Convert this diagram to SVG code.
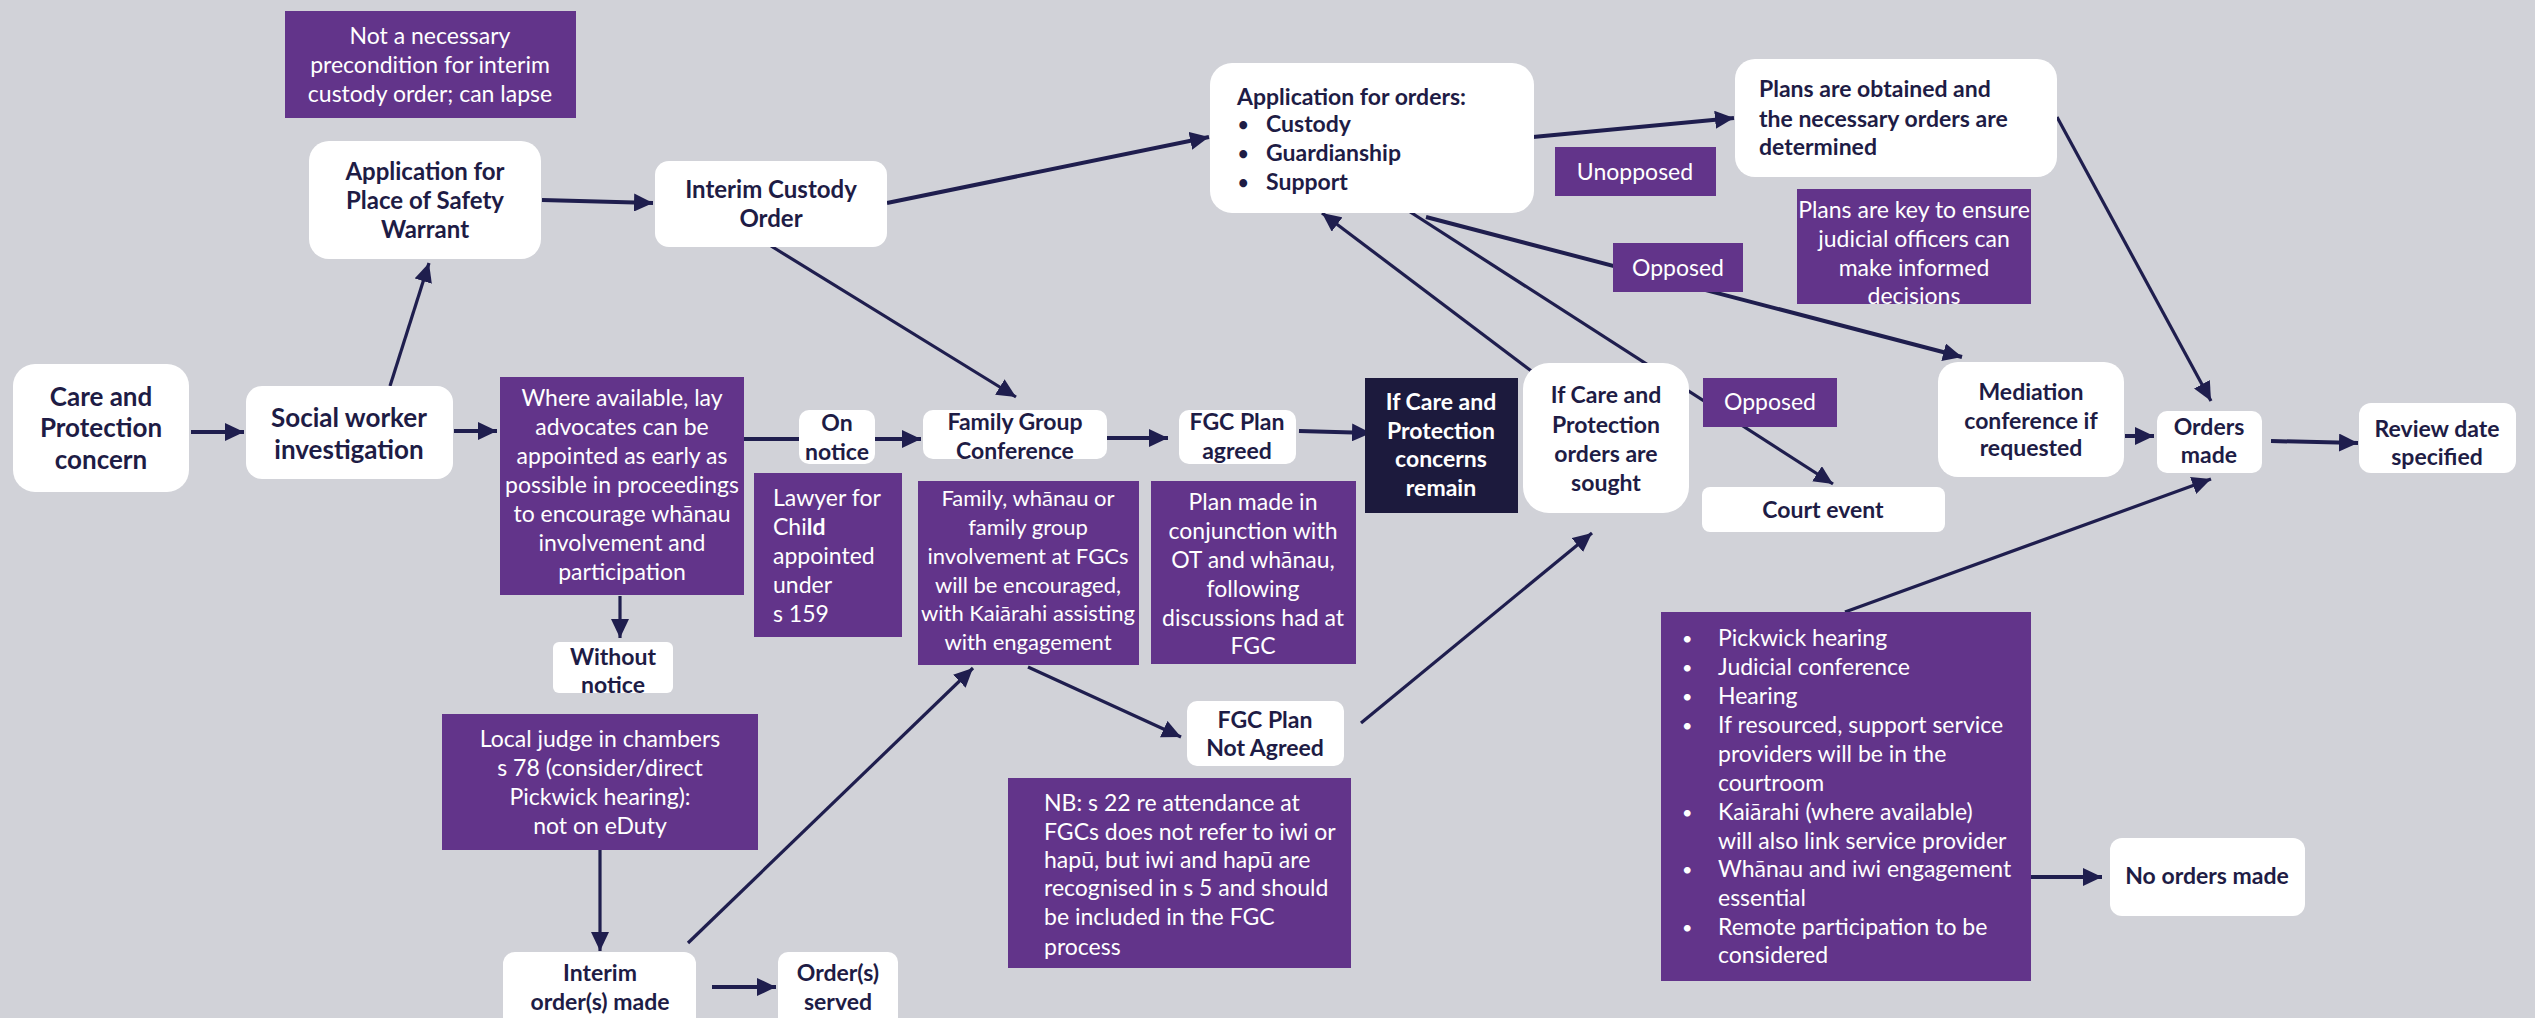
<svg xmlns="http://www.w3.org/2000/svg" width="2535" height="1018" viewBox="0 0 2535 1018">
<defs>
<style>
.bg{fill:#d1d2d8}
.n{fill:#ffffff}
.p{fill:#62348a}
.d{fill:#1c1a3d}
.t{font-family:Lato,"Open Sans","Liberation Sans",sans-serif;font-weight:700;fill:#1e1c45;font-size:23px;text-anchor:middle}
.tw{font-family:Lato,"Open Sans","Liberation Sans",sans-serif;font-weight:700;fill:#ffffff;font-size:23px;text-anchor:middle}
.pt{font-family:Lato,"Open Sans","Liberation Sans",sans-serif;font-weight:400;fill:#ffffff;font-size:23px;text-anchor:middle}
.l{text-anchor:start}
.b{font-size:18px}
.c{fill:none;stroke:#1f1e4e;stroke-width:4}
.c3{fill:none;stroke:#1f1e4e;stroke-width:3.2}
</style>
<marker id="ah" markerUnits="userSpaceOnUse" markerWidth="20" markerHeight="18" refX="19" refY="9" orient="auto">
<path d="M0,0 L19,9 L0,18 z" fill="#1f1e4e"/>
</marker>
<clipPath id="kclip"><rect x="1797" y="189" width="234" height="115"/></clipPath>
</defs>
<rect class="bg" x="0" y="0" width="2535" height="1018"/>

<g id="connectors">
<line class="c" x1="191" y1="432" x2="244" y2="432" marker-end="url(#ah)"/>
<line class="c" x1="454" y1="431" x2="497" y2="431" marker-end="url(#ah)"/>
<line class="c3" x1="390" y1="386" x2="429" y2="263" marker-end="url(#ah)"/>
<line class="c" x1="542" y1="200" x2="653" y2="203" marker-end="url(#ah)"/>
<line class="c" x1="887" y1="203" x2="1209" y2="137" marker-end="url(#ah)"/>
<line class="c3" x1="771" y1="246" x2="1016" y2="397" marker-end="url(#ah)"/>
<line class="c" x1="739" y1="439" x2="799" y2="439"/>
<line class="c" x1="875" y1="439" x2="921" y2="439" marker-end="url(#ah)"/>
<line class="c" x1="1107" y1="438" x2="1168" y2="438" marker-end="url(#ah)"/>
<line class="c" x1="1299" y1="431" x2="1371" y2="433" marker-end="url(#ah)"/>
<line class="c3" x1="1534" y1="373" x2="1322" y2="213" marker-end="url(#ah)"/>
<line class="c" x1="1533" y1="137" x2="1734" y2="118" marker-end="url(#ah)"/>
<line class="c" x1="1426" y1="217" x2="1962" y2="357" marker-end="url(#ah)"/>
<line class="c3" x1="1404" y1="208" x2="1833" y2="484" marker-end="url(#ah)"/>
<line class="c3" x1="2057" y1="117" x2="2211" y2="401" marker-end="url(#ah)"/>
<line class="c" x1="2125" y1="436" x2="2154" y2="436" marker-end="url(#ah)"/>
<line class="c" x1="2271" y1="441" x2="2358" y2="443" marker-end="url(#ah)"/>
<line class="c3" x1="1845" y1="612" x2="2211" y2="479" marker-end="url(#ah)"/>
<line class="c" x1="2031" y1="877" x2="2102" y2="877" marker-end="url(#ah)"/>
<line class="c3" x1="620" y1="596" x2="620" y2="638" marker-end="url(#ah)"/>
<line class="c3" x1="600" y1="850" x2="600" y2="951" marker-end="url(#ah)"/>
<line class="c" x1="712" y1="987" x2="776" y2="987" marker-end="url(#ah)"/>
<line class="c3" x1="688" y1="943" x2="973" y2="668" marker-end="url(#ah)"/>
<line class="c3" x1="1028" y1="667" x2="1181" y2="737" marker-end="url(#ah)"/>
<line class="c3" x1="1361" y1="723" x2="1592" y2="533" marker-end="url(#ah)"/>
</g>

<g id="not-necessary">
<rect class="p" x="285" y="11" width="291" height="107"/>
<text class="pt" x="430" y="44">Not a necessary</text>
<text class="pt" x="430" y="73">precondition for interim</text>
<text class="pt" x="430" y="102">custody order; can lapse</text>
</g>

<g id="care-concern">
<rect class="n" x="13" y="364" width="176" height="128" rx="22"/>
<text class="t" style="font-size:26px" x="101" y="406">Care and</text>
<text class="t" style="font-size:26px" x="101" y="437">Protection</text>
<text class="t" style="font-size:26px" x="101" y="469">concern</text>
</g>

<g id="social-worker">
<rect class="n" x="246" y="386" width="207" height="93" rx="16"/>
<text class="t" style="font-size:26px" x="349" y="427">Social worker</text>
<text class="t" style="font-size:26px" x="349" y="459">investigation</text>
</g>

<g id="app-place-of-safety">
<rect class="n" x="309" y="141" width="232" height="118" rx="20"/>
<text class="t" style="font-size:24px" x="425" y="180">Application for</text>
<text class="t" style="font-size:24px" x="425" y="209">Place of Safety</text>
<text class="t" style="font-size:24px" x="425" y="238">Warrant</text>
</g>

<g id="interim-custody">
<rect class="n" x="655" y="161" width="232" height="86" rx="14"/>
<text class="t" style="font-size:24px" x="771" y="198">Interim Custody</text>
<text class="t" style="font-size:24px" x="771" y="227">Order</text>
</g>

<g id="lay-advocates">
<rect class="p" x="500" y="377" width="244" height="218"/>
<text class="pt" x="622" y="406">Where available, lay</text>
<text class="pt" x="622" y="435">advocates can be</text>
<text class="pt" x="622" y="464">appointed as early as</text>
<text class="pt" x="622" y="493">possible in proceedings</text>
<text class="pt" x="622" y="522">to encourage whānau</text>
<text class="pt" x="622" y="551">involvement and</text>
<text class="pt" x="622" y="580">participation</text>
</g>

<g id="on-notice">
<rect class="n" x="799" y="410" width="76" height="54" rx="10"/>
<text class="t" x="837" y="431">On</text>
<text class="t" x="837" y="460">notice</text>
</g>

<g id="lawyer-for-child">
<rect class="p" x="754" y="473" width="148" height="164"/>
<text class="pt l" x="773" y="506">Lawyer for</text>
<text class="pt l" x="773" y="535">Chi<tspan font-weight="700">ld</tspan></text>
<text class="pt l" x="773" y="564">appointed</text>
<text class="pt l" x="773" y="593">under</text>
<text class="pt l" x="773" y="622">s 159</text>
</g>

<g id="without-notice">
<rect class="n" x="553" y="642" width="120" height="51" rx="6"/>
<text class="t" x="613" y="665">Without</text>
<text class="t" x="613" y="693">notice</text>
</g>

<g id="local-judge">
<rect class="p" x="442" y="714" width="316" height="136"/>
<text class="pt" x="600" y="747">Local judge in chambers</text>
<text class="pt" x="600" y="776">s 78 (consider/direct</text>
<text class="pt" x="600" y="805">Pickwick hearing):</text>
<text class="pt" x="600" y="834">not on eDuty</text>
</g>

<g id="interim-orders-made">
<rect class="n" x="503" y="952" width="193" height="80" rx="12"/>
<text class="t" x="600" y="981">Interim</text>
<text class="t" x="600" y="1010">order(s) made</text>
</g>

<g id="orders-served">
<rect class="n" x="778" y="952" width="120" height="80" rx="10"/>
<text class="t" x="838" y="981">Order(s)</text>
<text class="t" x="838" y="1010">served</text>
</g>

<g id="family-group-conference">
<rect class="n" x="923" y="410" width="184" height="49" rx="10"/>
<text class="t" x="1015" y="430">Family Group</text>
<text class="t" x="1015" y="459">Conference</text>
</g>

<g id="family-involvement">
<rect class="p" x="918" y="481" width="221" height="184"/>
<text class="pt" style="font-size:22px" x="1028" y="506">Family, whānau or</text>
<text class="pt" style="font-size:22px" x="1028" y="535">family group</text>
<text class="pt" style="font-size:22px" x="1028" y="564">involvement at FGCs</text>
<text class="pt" style="font-size:22px" x="1028" y="593">will be encouraged,</text>
<text class="pt" style="font-size:22px" x="1028" y="621">with Kaiārahi assisting</text>
<text class="pt" style="font-size:22px" x="1028" y="650">with engagement</text>
</g>

<g id="fgc-plan-agreed">
<rect class="n" x="1179" y="410" width="117" height="54" rx="10"/>
<text class="t" x="1237" y="430">FGC Plan</text>
<text class="t" x="1237" y="459">agreed</text>
</g>

<g id="plan-made">
<rect class="p" x="1151" y="481" width="205" height="183"/>
<text class="pt" x="1253" y="510">Plan made in</text>
<text class="pt" x="1253" y="539">conjunction with</text>
<text class="pt" x="1253" y="568">OT and whānau,</text>
<text class="pt" x="1253" y="597">following</text>
<text class="pt" x="1253" y="626">discussions had at</text>
<text class="pt" x="1253" y="654">FGC</text>
</g>

<g id="fgc-plan-not-agreed">
<rect class="n" x="1187" y="701" width="157" height="65" rx="10"/>
<text class="t" x="1265" y="728">FGC Plan</text>
<text class="t" x="1265" y="756">Not Agreed</text>
</g>

<g id="nb-note">
<rect class="p" x="1008" y="778" width="343" height="190"/>
<text class="pt l" x="1044" y="811">NB: s 22 re attendance at</text>
<text class="pt l" x="1044" y="840">FGCs does not refer to iwi or</text>
<text class="pt l" x="1044" y="868">hapū, but iwi and hapū are</text>
<text class="pt l" x="1044" y="896">recognised in s 5 and should</text>
<text class="pt l" x="1044" y="925">be included in the FGC</text>
<text class="pt l" x="1044" y="955">process</text>
</g>

<g id="concerns-remain">
<rect class="d" x="1365" y="378" width="153" height="135"/>
<text class="tw" x="1441" y="410">If Care and</text>
<text class="tw" x="1441" y="439">Protection</text>
<text class="tw" x="1441" y="467">concerns</text>
<text class="tw" x="1441" y="496">remain</text>
</g>

<g id="orders-sought">
<rect class="n" x="1523" y="363" width="166" height="150" rx="26"/>
<text class="t" x="1606" y="403">If Care and</text>
<text class="t" x="1606" y="433">Protection</text>
<text class="t" x="1606" y="462">orders are</text>
<text class="t" x="1606" y="491">sought</text>
</g>

<g id="application-for-orders">
<rect class="n" x="1210" y="63" width="324" height="150" rx="22"/>
<text class="t l" x="1237" y="105">Application for orders:</text>
<text class="t l b" x="1238" y="131">•</text>
<text class="t l" x="1266" y="132">Custody</text>
<text class="t l b" x="1238" y="160">•</text>
<text class="t l" x="1266" y="161">Guardianship</text>
<text class="t l b" x="1238" y="189">•</text>
<text class="t l" x="1266" y="190">Support</text>
</g>

<g id="unopposed">
<rect class="p" x="1555" y="147" width="161" height="49"/>
<text class="pt" x="1635" y="180">Unopposed</text>
</g>

<g id="opposed-1">
<rect class="p" x="1613" y="243" width="130" height="49"/>
<text class="pt" x="1678" y="276">Opposed</text>
</g>

<g id="plans-obtained">
<rect class="n" x="1735" y="59" width="322" height="118" rx="20"/>
<text class="t l" x="1759" y="97">Plans are obtained and</text>
<text class="t l" x="1759" y="127">the necessary orders are</text>
<text class="t l" x="1759" y="155">determined</text>
</g>

<g id="plans-key">
<rect class="p" x="1797" y="189" width="234" height="115"/>
<g clip-path="url(#kclip)">
<text class="pt" x="1914" y="218">Plans are key to ensure</text>
<text class="pt" x="1914" y="247">judicial officers can</text>
<text class="pt" x="1914" y="276">make informed</text>
<text class="pt" x="1914" y="304">decisions</text>
</g>
</g>

<g id="opposed-2">
<rect class="p" x="1703" y="378" width="134" height="49"/>
<text class="pt" x="1770" y="410">Opposed</text>
</g>

<g id="court-event">
<rect class="n" x="1702" y="487" width="243" height="45" rx="8"/>
<text class="t" x="1823" y="518">Court event</text>
</g>

<g id="mediation">
<rect class="n" x="1938" y="362" width="186" height="115" rx="20"/>
<text class="t" x="2031" y="400">Mediation</text>
<text class="t" x="2031" y="429">conference if</text>
<text class="t" x="2031" y="456">requested</text>
</g>

<g id="orders-made">
<rect class="n" x="2157" y="411" width="105" height="62" rx="10"/>
<text class="t" x="2209" y="435">Orders</text>
<text class="t" x="2209" y="463">made</text>
</g>

<g id="review-date">
<rect class="n" x="2359" y="403" width="157" height="70" rx="12"/>
<text class="t" x="2437" y="437">Review date</text>
<text class="t" x="2437" y="465">specified</text>
</g>

<g id="court-event-list">
<rect class="p" x="1661" y="612" width="370" height="369"/>
<text class="pt l b" x="1682" y="645">•</text><text class="pt l" x="1718" y="646">Pickwick hearing</text>
<text class="pt l b" x="1682" y="674">•</text><text class="pt l" x="1718" y="675">Judicial conference</text>
<text class="pt l b" x="1682" y="703">•</text><text class="pt l" x="1718" y="704">Hearing</text>
<text class="pt l b" x="1682" y="732">•</text><text class="pt l" x="1718" y="733">If resourced, support service</text>
<text class="pt l" x="1718" y="762">providers will be in the</text>
<text class="pt l" x="1718" y="791">courtroom</text>
<text class="pt l b" x="1682" y="819">•</text><text class="pt l" x="1718" y="820">Kaiārahi (where available)</text>
<text class="pt l" x="1718" y="849">will also link service provider</text>
<text class="pt l b" x="1682" y="876">•</text><text class="pt l" x="1718" y="877">Whānau and iwi engagement</text>
<text class="pt l" x="1718" y="906">essential</text>
<text class="pt l b" x="1682" y="934">•</text><text class="pt l" x="1718" y="935">Remote participation to be</text>
<text class="pt l" x="1718" y="963">considered</text>
</g>

<g id="no-orders-made">
<rect class="n" x="2110" y="838" width="195" height="78" rx="12"/>
<text class="t" x="2207" y="884">No orders made</text>
</g>
</svg>
